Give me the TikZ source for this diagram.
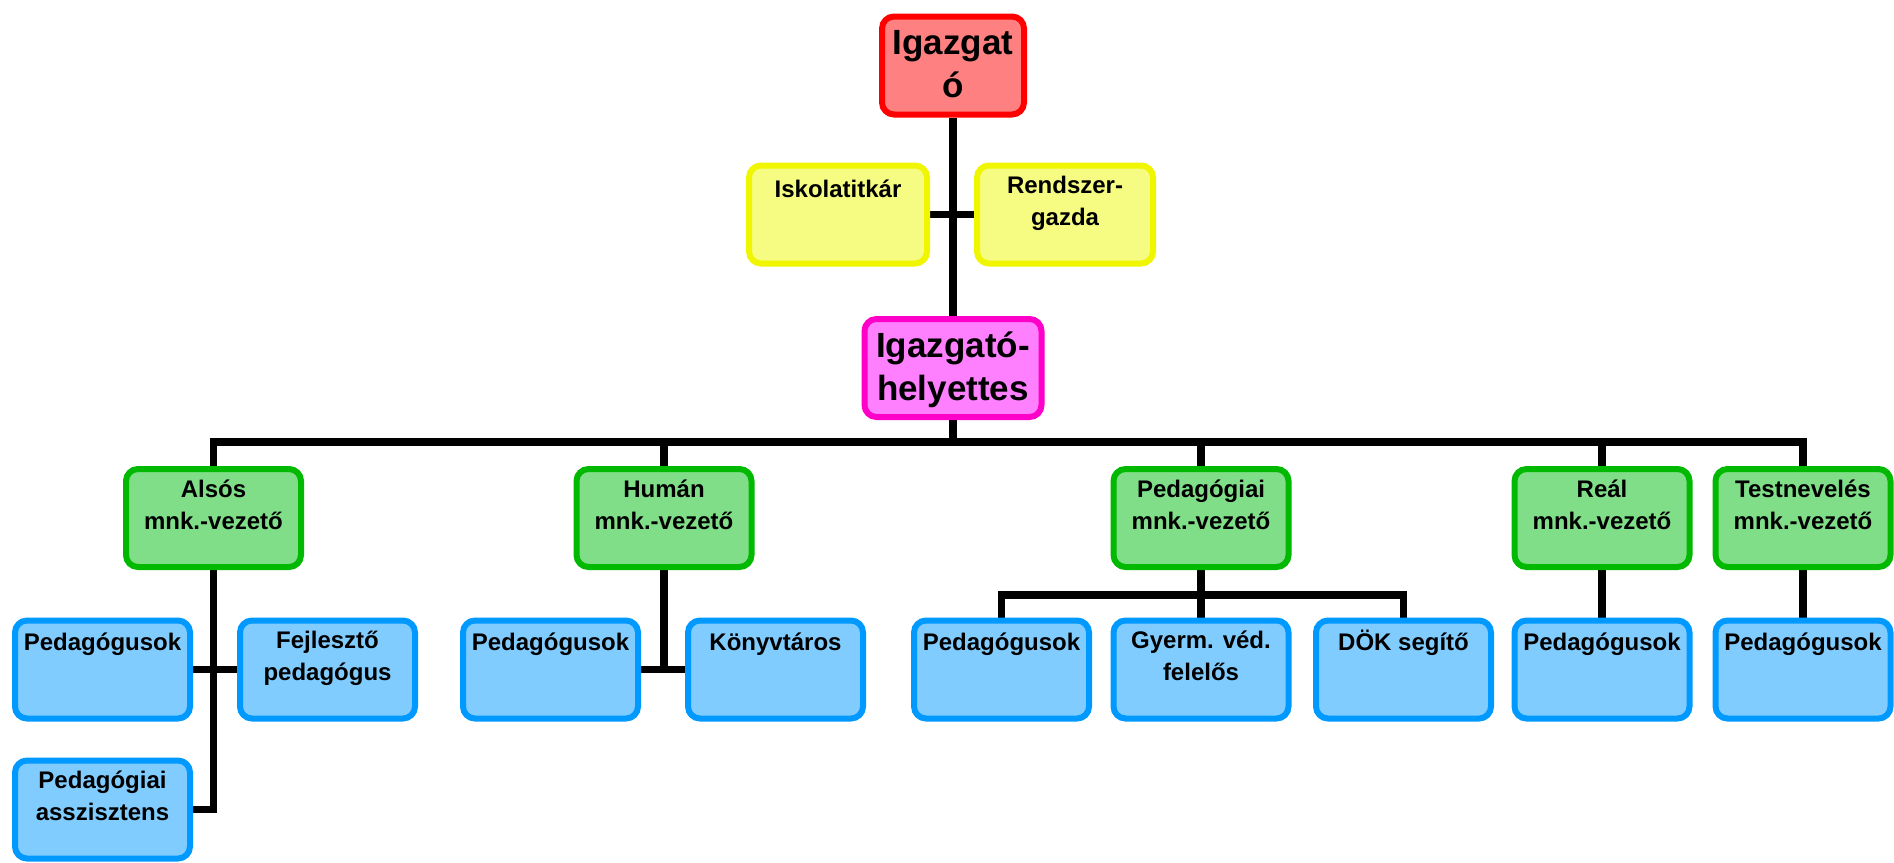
\documentclass[tikz,border=0pt]{standalone}
\usepackage{fontspec}
\setmainfont{Liberation Sans}
\usetikzlibrary{backgrounds,calc}
\definecolor{redB}{RGB}{255,0,0}
\definecolor{redF}{RGB}{255,128,128}
\definecolor{yelB}{RGB}{240,245,0}
\definecolor{yelF}{RGB}{246,252,130}
\definecolor{magB}{RGB}{255,0,200}
\definecolor{magF}{RGB}{255,128,255}
\definecolor{grnB}{RGB}{0,185,0}
\definecolor{grnF}{RGB}{128,222,136}
\definecolor{bluB}{RGB}{0,153,255}
\definecolor{bluF}{RGB}{128,204,255}
\tikzset{
  box/.style={draw, line width=3pt, rounded corners=6pt, inner sep=0pt},
  redbox/.style={box, draw=redB, fill=redF},
  yelbox/.style={box, draw=yelB, fill=yelF},
  magbox/.style={box, draw=magB, fill=magF},
  grnbox/.style={box, draw=grnB, fill=grnF},
  blubox/.style={box, draw=bluB, fill=bluF},
  small/.style={anchor=base, align=center, inner sep=0pt, font=\fontsize{12pt}{16pt}\selectfont\bfseries},
  big/.style={anchor=base, align=center, inner sep=0pt, font=\fontsize{17.5pt}{21.5pt}\selectfont\bfseries},
  conn/.style={draw=black, line width=3.75pt},
  boxsize/.style 2 args={minimum width=#1*0.5pt-3pt, minimum height=#2*0.5pt-3pt}
}
\begin{document}
\begin{tikzpicture}[x=0.5pt, y=-0.5pt]
\useasboundingbox (0,0) rectangle (1894,862);
% top (text nodes anchored at the baseline of their last line)
\node[redbox, boxsize={148}{104}] (ig) at (953,65.5) {};
\node[big] (igt) at ($(ig.north)+(0,84)$) {Igazgat\\ó};
\node[yelbox, boxsize={184}{104}] (isk) at (838,214.5) {};
\node[small] (iskt) at ($(isk.north)+(0,35)$) {Iskolatitkár};
\node[yelbox, boxsize={182}{104}] (rend) at (1065,214.5) {};
\node[small] (rendt) at ($(rend.north)+(0,63)$) {Rendszer-\\gazda};
\node[magbox, boxsize={183}{104}] (ih) at (953,368) {};
\node[big] (iht) at ($(ih.north)+(0,84)$) {Igazgató-\\helyettes};
% green row
\foreach \n/\x/\t in {also/213.5/{Alsós\\mnk.-vezető}, human/664/{Humán\\mnk.-vezető}, pedm/1201/{Pedagógiai\\mnk.-vezető}, real/1602/{Reál\\mnk.-vezető}, test/1803/{Testnevelés\\mnk.-vezető}}{
  \node[grnbox, boxsize={181}{104}] (\n) at (\x,518) {};
  \node[small] (\n t) at ($(\n.north)+(0,63)$) {\t};
}
% blue row, one-line texts
\foreach \n/\x/\y/\t in {aped/102.5/669.5/{Pedagógusok}, hped/550.5/669.5/{Pedagógusok}, hkon/775.5/669.5/{Könyvtáros}, pped/1001.5/669.5/{Pedagógusok}, pdok/1403.5/669.5/{DÖK segítő}, rped/1602/669.5/{Pedagógusok}, tped/1803/669.5/{Pedagógusok}}{
  \node[blubox, boxsize={181}{104}] (\n) at (\x,\y) {};
  \node[small] (\n t) at ($(\n.north)+(0,33)$) {\t};
}
% blue row, two-line texts
\foreach \n/\x/\y/\t in {afej/327.5/669.5/{Fejlesztő\\pedagógus}, aasz/102.5/809.5/{Pedagógiai\\asszisztens}, pgy/1201/669.5/{Gyerm. véd.\\felelős}}{
  \node[blubox, boxsize={181}{104}] (\n) at (\x,\y) {};
  \node[small] (\n t) at ($(\n.north)+(0,63)$) {\t};
}
\coordinate (bus) at (0,442);
\coordinate (pbus) at (0,595);
\begin{scope}[on background layer]
\draw[conn] (ig.south) -- (ih.north);
\draw[conn] (isk.east) -- (rend.west);
\draw[conn] (ih.south) -- (ih.south |- bus);
\draw[conn] (also.north) -- (also.north |- bus) -| (test.north);
\draw[conn] (human.north) -- (human.north |- bus);
\draw[conn] (pedm.north) -- (pedm.north |- bus);
\draw[conn] (real.north) -- (real.north |- bus);
\draw[conn] (also.south) -- (also.south |- aasz.east) -- (aasz.east);
\draw[conn] (aped.east) -- (afej.west);
\draw[conn] (human.south) -- (human.south |- hped.east);
\draw[conn] (hped.east) -- (hkon.west);
\draw[conn] (pedm.south) -- (pgy.north);
\draw[conn] (pped.north) -- (pped.north |- pbus) -| (pdok.north);
\draw[conn] (real.south) -- (rped.north);
\draw[conn] (test.south) -- (tped.north);
\end{scope}
\end{tikzpicture}
\end{document}
